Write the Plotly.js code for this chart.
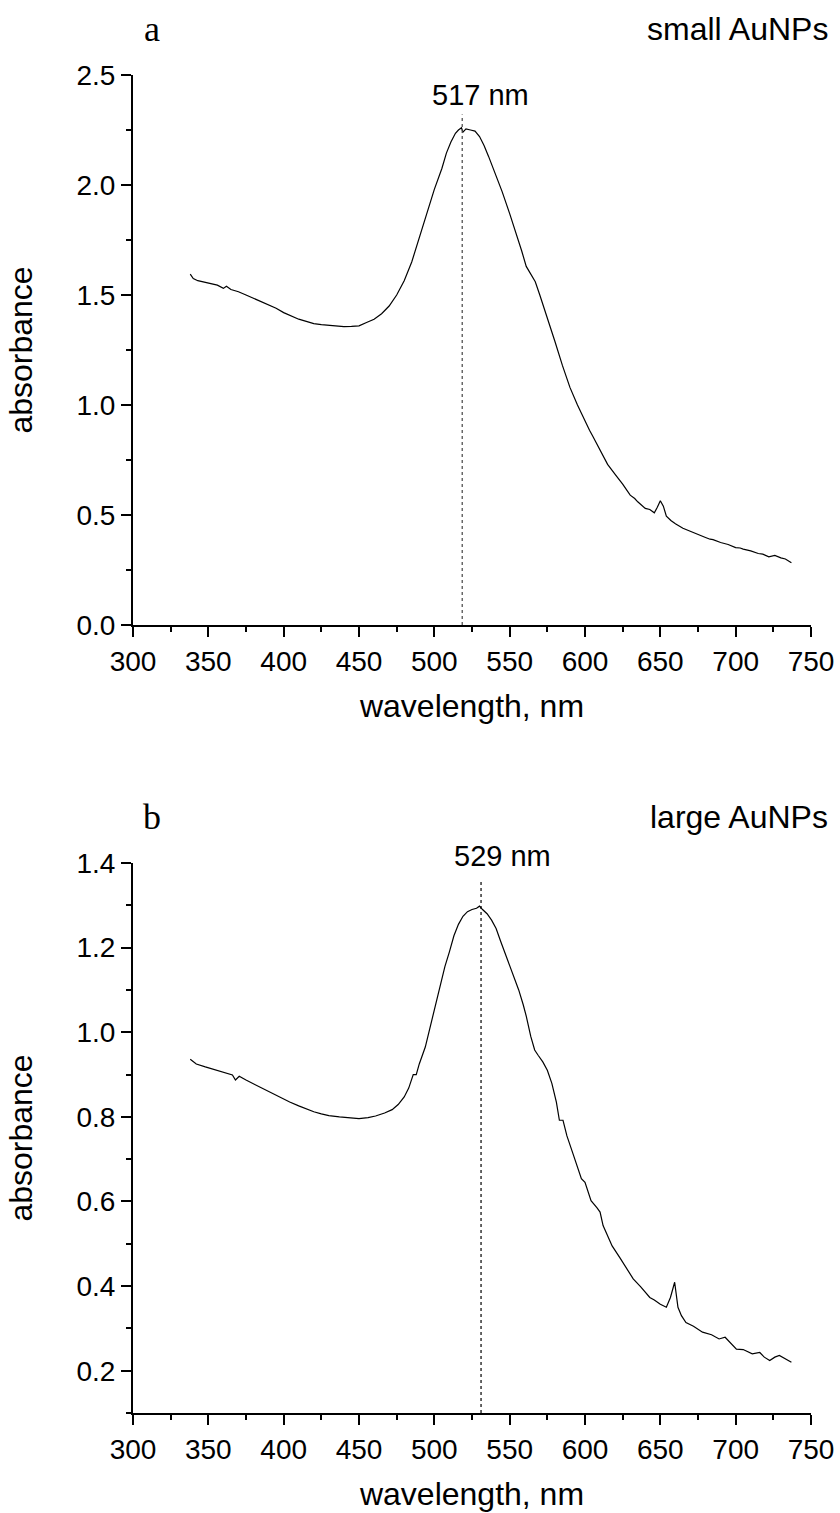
<!DOCTYPE html>
<html>
<head>
<meta charset="utf-8">
<script src="https://cdn.plot.ly/plotly-3.0.1.min.js"></script>
<style>html,body{margin:0;padding:0;background:#fff;}</style>
</head>
<body>
<div id="chart" style="width:840px;height:1513px;"></div>
<script>
// ---- Data ----
const smallWl = [338,340,343,350,356,360,362,365,370,375,380,385,390,395,400,405,410,415,420,425,430,435,440,445,450,455,460,465,470,475,480,485,490,495,500,505,508,511,514,516,518,519,521,524,527,530,533,536,540,545,550,555,558,561,564,567,570,575,580,585,590,595,600,603,605,608,610,615,620,623,625,630,633,635,640,643,646,648,650,652,654,657,660,665,670,675,680,683,685,690,695,700,703,705,710,715,718,722,726,730,733,737];
const smallAbs = [1.595,1.575,1.565,1.555,1.545,1.53,1.54,1.525,1.515,1.50,1.485,1.47,1.455,1.44,1.42,1.405,1.39,1.38,1.37,1.365,1.362,1.358,1.356,1.357,1.36,1.375,1.39,1.415,1.45,1.50,1.565,1.65,1.76,1.87,1.98,2.075,2.145,2.195,2.235,2.25,2.26,2.24,2.255,2.25,2.245,2.22,2.18,2.13,2.06,1.97,1.87,1.77,1.70,1.63,1.595,1.56,1.50,1.40,1.29,1.18,1.08,1.00,0.925,0.885,0.86,0.82,0.795,0.73,0.685,0.66,0.64,0.59,0.575,0.56,0.53,0.525,0.51,0.535,0.565,0.54,0.495,0.475,0.46,0.44,0.425,0.41,0.398,0.39,0.388,0.375,0.366,0.352,0.35,0.345,0.337,0.325,0.322,0.31,0.316,0.305,0.30,0.283];

const largeWl = [338,342,348,355,362,366,368,370.5,375,380,386,392,398,404,410,415,420,425,430,437,444,450,456,461,467,472,476,480,483,485,486,488,490,494,499,503,507,510,513,516,519,522,525,528,530,532,535,538,541,544,548,552,556,559,561,564,566.6,569,572,575,578,581,583,585.4,588,592,595,597.6,600,602,604,608,610,612,615,618,623,627,632,637,643,646,650,654,656.7,659.5,661.7,664,667,672,678,684,689,693,697,700.5,705,708,711,716,719,722.6,726,729,733,737];
const largeAbs = [0.936,0.925,0.918,0.91,0.903,0.899,0.887,0.896,0.887,0.878,0.867,0.856,0.845,0.835,0.826,0.819,0.812,0.807,0.803,0.80,0.797,0.796,0.798,0.802,0.809,0.817,0.829,0.847,0.868,0.891,0.90,0.90,0.925,0.965,1.04,1.10,1.155,1.19,1.228,1.255,1.274,1.285,1.29,1.293,1.298,1.29,1.28,1.265,1.245,1.215,1.178,1.14,1.10,1.065,1.038,0.99,0.958,0.945,0.93,0.91,0.879,0.835,0.792,0.792,0.755,0.713,0.68,0.654,0.645,0.625,0.602,0.585,0.575,0.543,0.52,0.495,0.468,0.445,0.417,0.398,0.373,0.367,0.357,0.35,0.373,0.409,0.35,0.33,0.314,0.305,0.291,0.285,0.275,0.279,0.265,0.251,0.25,0.245,0.24,0.243,0.232,0.224,0.232,0.236,0.228,0.22];

const panelLetters = ['a', 'b'];
const panelNames = ['small AuNPs', 'large AuNPs'];
const peakLabels = ['517 nm', '529 nm'];
const peakLineNm = [518.5, 531];       // where the dashed marker line is drawn
const peakLineTop = [2.32, 1.36];      // upper end of the dashed marker line
const yRanges = [[0, 2.5], [0.1, 1.4]];
const yDticks = [0.5, 0.2];
const yTick0 = [0, 0.2];
const yMinor = [0.25, 0.1];
const xRange = [300, 750];

// ---- Styling ----
const SANS = 'Liberation Sans, Arial, sans-serif';
const SERIF = 'Liberation Serif, Times New Roman, serif';
const tickFont = {family: SANS, size: 28, color: '#000'};
const titleFont = {family: SANS, size: 32, color: '#000'};

function xAxis(anchor) {
  return {
    anchor: anchor, range: xRange, dtick: 50, tick0: 300,
    showline: true, linewidth: 2, linecolor: '#000', mirror: false,
    ticks: 'outside', ticklen: 10, tickwidth: 2, tickcolor: '#000',
    minor: {ticks: 'outside', dtick: 25, ticklen: 5, tickwidth: 2, tickcolor: '#000', showgrid: false},
    showgrid: false, zeroline: false, tickfont: tickFont,
    title: {text: 'wavelength, nm', font: titleFont, standoff: 19},
    automargin: false
  };
}
function yAxis(i, anchor, domain) {
  return {
    anchor: anchor, domain: domain, range: yRanges[i], dtick: yDticks[i], tick0: yTick0[i],
    tickformat: '.1f',
    showline: true, linewidth: 2, linecolor: '#000', mirror: false,
    ticks: 'outside', ticklen: 10, tickwidth: 2, tickcolor: '#000',
    minor: {ticks: 'outside', dtick: yMinor[i], ticklen: 5, tickwidth: 2, tickcolor: '#000', showgrid: false},
    showgrid: false, zeroline: false, tickfont: tickFont,
    title: {text: 'absorbance', font: titleFont, standoff: 34},
    automargin: false
  };
}

const traces = [
  {x: smallWl, y: smallAbs, xaxis: 'x', yaxis: 'y', type: 'scatter', mode: 'lines',
   line: {color: '#000', width: 1.2}, hoverinfo: 'x+y'},
  {x: [peakLineNm[0], peakLineNm[0]], y: [yRanges[0][0], peakLineTop[0]], xaxis: 'x', yaxis: 'y',
   type: 'scatter', mode: 'lines', line: {color: '#444', width: 1.2, dash: '3px,3px'}},
  {x: largeWl, y: largeAbs, xaxis: 'x2', yaxis: 'y2', type: 'scatter', mode: 'lines',
   line: {color: '#000', width: 1.2}, hoverinfo: 'x+y'},
  {x: [peakLineNm[1], peakLineNm[1]], y: [yRanges[1][0], peakLineTop[1]], xaxis: 'x2', yaxis: 'y2',
   type: 'scatter', mode: 'lines', line: {color: '#000', width: 1.2, dash: '3px,3px'}}
];

// layout geometry (pixels)
const W = 840, H = 1513, ML = 133, MR = 29, MT = 75, MB = 100;
const plotH = H - MT - MB;
function py(pix) { return (H - MB - pix) / plotH; }   // pixel y -> paper y
function px(pix) { return (pix - ML) / (W - ML - MR); } // pixel x -> paper x

const annotations = [];
const panelTopPx = [75, 863];
for (let i = 0; i < 2; i++) {
  annotations.push({xref: 'paper', yref: 'paper', x: px(152), y: py(panelTopPx[i] - 46),
    text: panelLetters[i], showarrow: false, xanchor: 'center', yanchor: 'middle',
    font: {family: SERIF, size: 36, color: '#000'}});
  annotations.push({xref: 'paper', yref: 'paper', x: px(830), y: py(panelTopPx[i] - 46),
    text: panelNames[i], showarrow: false, xanchor: 'right', yanchor: 'middle',
    font: {family: SANS, size: 32, color: '#000'}});
}
annotations.push({xref: 'x', yref: 'paper', x: peakLineNm[0] + 12, y: py(95),
  text: peakLabels[0], showarrow: false, xanchor: 'center', yanchor: 'middle',
  font: {family: SANS, size: 29, color: '#000'}});
annotations.push({xref: 'x2', yref: 'paper', x: peakLineNm[1] + 14, y: py(856),
  text: peakLabels[1], showarrow: false, xanchor: 'center', yanchor: 'middle',
  font: {family: SANS, size: 29, color: '#000'}});

const layout = {
  width: W, height: H,
  margin: {l: ML, r: MR, t: MT, b: MB},
  paper_bgcolor: '#fff', plot_bgcolor: '#fff',
  showlegend: false,
  font: {family: SANS, color: '#000'},
  xaxis: xAxis('y'),
  yaxis: yAxis(0, 'x', [1 - 550 / plotH, 1]),
  xaxis2: xAxis('y2'),
  yaxis2: yAxis(1, 'x2', [0, 550 / plotH]),
  annotations: annotations
};

Plotly.newPlot('chart', traces, layout, {displayModeBar: false, staticPlot: true});
</script>
</body>
</html>
